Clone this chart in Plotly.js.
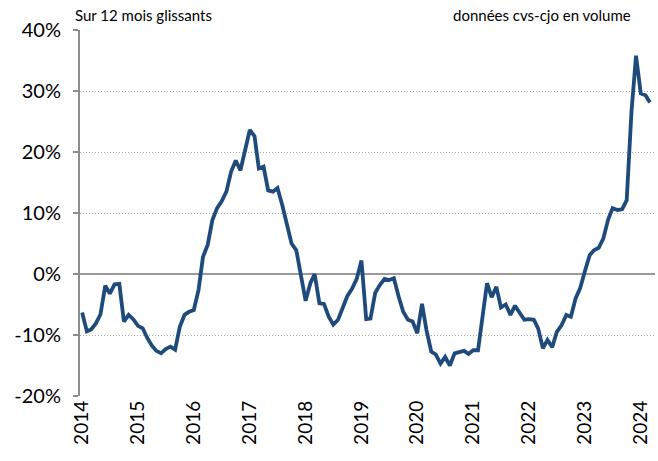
<!DOCTYPE html>
<html>
<head>
<meta charset="utf-8">
<script src="https://cdn.plot.ly/plotly-3.0.1.min.js"></script>
<style>
html,body{margin:0;padding:0;background:#fff;}
#chart{width:658px;height:461px;}
</style>
</head>
<body>
<div id="chart"></div>
<script>
// Monthly series, Jan 2014 -> Mar 2024 (12-month rolling growth, %)
const startYear = 2014;
const values = [
  -6.3, -9.4, -9.1, -8.1, -6.6, -1.9, -3.2, -1.7, -1.6, -7.8, -6.7, -7.4,
  -8.5, -8.9, -10.4, -11.7, -12.6, -13.0, -12.3, -11.9, -12.4, -8.7, -6.7, -6.2,
  -5.9, -2.6, 2.8, 4.8, 8.8, 10.8, 11.9, 13.5, 16.8, 18.6, 17.0, 20.3,
  23.6, 22.6, 17.3, 17.6, 13.7, 13.5, 14.1, 11.3, 7.8, 5.0, 3.9, -0.2,
  -4.4, -1.5, 0.0, -4.8, -4.9, -7.0, -8.3, -7.5, -5.5, -3.6, -2.4, -0.8,
  2.2, -7.4, -7.3, -3.1, -1.8, -0.8, -1.0, -0.7, -3.7, -6.2, -7.5, -7.8,
  -9.7, -4.9, -9.2, -12.7, -13.2, -14.7, -13.6, -15.0, -13.0, -12.8, -12.6, -13.1,
  -12.5, -12.5, -7.5, -1.5, -3.8, -2.1, -5.5, -5.0, -6.7, -5.2, -6.4, -7.5,
  -7.4, -7.5, -8.9, -12.2, -10.8, -12.0, -9.5, -8.4, -6.7, -7.0, -4.0, -2.3,
  0.5, 3.1, 3.9, 4.3, 5.8, 8.9, 10.8, 10.5, 10.6, 12.1, 26.5, 35.8,
  29.6, 29.3, 28.1
];
const yearLabels = ['2014','2015','2016','2017','2018','2019','2020','2021','2022','2023','2024'];
const yTickVals = [-20, -10, 0, 10, 20, 30, 40];
const yTickText = ['-20%', '-10%', '0%', '10%', '20%', '30%', '40%'];

const dates = values.map((v, i) => {
  const y = startYear + Math.floor(i / 12);
  const m = (i % 12) + 1;
  return y + '-' + String(m).padStart(2, '0') + '-01';
});
const yearTicks = yearLabels.map(y => y + '-01-01');

const trace = {
  x: dates,
  y: values,
  type: 'scatter',
  mode: 'lines',
  line: {color: '#1F4A7C', width: 3.8},
  hoverinfo: 'x+y'
};

const layout = {
  width: 658,
  height: 461,
  margin: {l: 80, r: 3, t: 30, b: 65},
  paper_bgcolor: '#ffffff',
  plot_bgcolor: '#ffffff',
  showlegend: false,
  font: {family: 'Lato, "Liberation Sans", sans-serif', color: '#000000'},
  xaxis: {
    type: 'date',
    range: ['2013-12-18', '2024-04-03'],
    tickvals: yearTicks,
    ticktext: yearLabels,
    tickangle: -90,
    tickfont: {size: 19, color: '#000000'},
    showgrid: false,
    zeroline: false,
    showline: false,
    ticks: ''
  },
  yaxis: {
    range: [-20, 40],
    tickvals: yTickVals,
    ticktext: yTickText,
    tickfont: {size: 20, color: '#000000'},
    showgrid: true,
    gridcolor: '#a8a8a8',
    gridwidth: 1,
    griddash: '1px,2px',
    zeroline: true,
    zerolinecolor: '#9a9a9a',
    zerolinewidth: 2,
    showline: true,
    linecolor: '#8c8c8c',
    linewidth: 2,
    ticks: 'outside',
    ticklen: 5,
    tickcolor: '#8c8c8c',
    tickwidth: 1.5,
    ticklabelstandoff: 8
  },
  annotations: [
    {
      text: 'Sur 12 mois glissants',
      xref: 'paper', yref: 'paper',
      x: -0.012, y: 1.042,
      xanchor: 'left', yanchor: 'middle',
      showarrow: false,
      font: {size: 15, color: '#000000'}
    },
    {
      text: 'données cvs-cjo en volume',
      xref: 'paper', yref: 'paper',
      x: 0.962, y: 1.042,
      xanchor: 'right', yanchor: 'middle',
      showarrow: false,
      font: {size: 15, color: '#000000'}
    }
  ]
};

Plotly.newPlot('chart', [trace], layout, {displayModeBar: false, staticPlot: true});
</script>
</body>
</html>
